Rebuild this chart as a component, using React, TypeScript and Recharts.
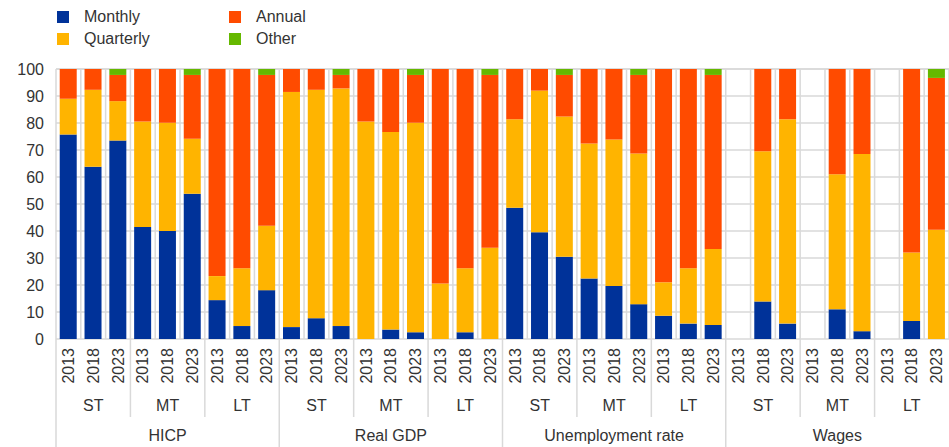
import React from 'react';
import { BarChart, Bar, XAxis, YAxis, CartesianGrid } from 'recharts';

const groups = ['HICP', 'Real GDP', 'Unemployment rate', 'Wages'];
const horizons = ['ST', 'MT', 'LT'];
const vintages = ['2013', '2018', '2023'];

const monthly = [
  75.7, 63.8, 73.5, 41.5, 40.0, 53.8, 14.4, 4.8, 18.1,
  4.4, 7.7, 4.8, 0, 3.5, 2.5, 0, 2.5, 0,
  48.6, 39.5, 30.5, 22.4, 19.6, 12.9, 8.6, 5.7, 5.2,
  0, 13.9, 5.7, 0, 11.0, 2.9, 0, 6.7, 0,
];
const quarterly = [
  13.3, 28.5, 14.6, 39.1, 40.1, 20.4, 8.9, 21.4, 23.8,
  87.1, 84.6, 88.0, 80.6, 73.2, 77.6, 20.6, 23.7, 33.8,
  32.8, 52.5, 51.9, 50.0, 54.3, 55.8, 12.4, 20.5, 28.1,
  0, 55.6, 75.7, 0, 50.0, 65.6, 0, 25.3, 40.5,
];
const annual = [
  11.0, 7.7, 9.7, 19.4, 19.9, 23.6, 76.7, 73.8, 55.9,
  8.5, 7.7, 5.0, 19.4, 23.3, 17.7, 79.4, 73.8, 64.0,
  18.6, 8.0, 15.4, 27.6, 26.1, 29.1, 79.0, 73.8, 64.5,
  0, 30.5, 18.6, 0, 39.0, 31.5, 0, 68.0, 56.2,
];
const other = [
  0, 0, 2.2, 0, 0, 2.2, 0, 0, 2.2,
  0, 0, 2.2, 0, 0, 2.2, 0, 0, 2.2,
  0, 0, 2.2, 0, 0, 2.2, 0, 0, 2.2,
  0, 0, 0, 0, 0, 0, 0, 0, 3.3,
];

const series = [
  { key: 'monthly', name: 'Monthly', color: '#003299' },
  { key: 'quarterly', name: 'Quarterly', color: '#FFB400' },
  { key: 'annual', name: 'Annual', color: '#FF4B00' },
  { key: 'other', name: 'Other', color: '#65B800' },
];

const yTicks = [0, 10, 20, 30, 40, 50, 60, 70, 80, 90, 100];

const data = groups.flatMap((g, gi) =>
  horizons.flatMap((h, hi) =>
    vintages.map((v, vi) => {
      const i = gi * 9 + hi * 3 + vi;
      return {
        id: i,
        year: v,
        horizon: h,
        group: g,
        monthly: monthly[i],
        quarterly: quarterly[i],
        annual: annual[i],
        other: other[i],
      };
    })
  )
);

const W = 949;
const H = 447;
const LEFT = 56;
const TOP = 69;
const BOTTOM = 108;
const N = data.length;
const CAT_W = (W - LEFT) / N;
const FONT = '"Liberation Sans", Arial, sans-serif';
const LINE = '#d9d9d9';
const TXT = '#333';

function XTick(props: any) {
  const { x, y, index } = props;
  const row = data[index];
  const left = x - CAT_W / 2;
  const axisY = y - 8;
  return (
    <g>
      <text
        transform={`translate(${x},${axisY + 9}) rotate(-90)`}
        textAnchor="end"
        dy="0.35em"
        fontSize={16}
        fill={TXT}
        fontFamily={FONT}
      >
        {row.year}
      </text>
      {index % 3 === 1 && (
        <text x={x} y={axisY + 66} textAnchor="middle" dy="0.35em" fontSize={16} fill={TXT} fontFamily={FONT}>
          {row.horizon}
        </text>
      )}
      {index % 9 === 4 && (
        <text x={x} y={axisY + 96} textAnchor="middle" dy="0.35em" fontSize={16} fill={TXT} fontFamily={FONT}>
          {row.group}
        </text>
      )}
      {index % 9 === 0 ? (
        <line x1={left} x2={left} y1={axisY} y2={H} stroke={LINE} strokeWidth={1.5} />
      ) : index % 3 === 0 ? (
        <line x1={left} x2={left} y1={axisY} y2={axisY + 78} stroke={LINE} strokeWidth={1.5} />
      ) : null}
    </g>
  );
}

export default function App() {
  return (
    <div style={{ position: 'absolute', left: 0, top: 0, width: W, height: H, background: '#fff', fontFamily: FONT }}>
      <div style={{ position: 'absolute', left: 57, top: 8, display: 'grid', gridTemplateColumns: '172px 120px', rowGap: 4 }}>
        {[series[0], series[2], series[1], series[3]].map((s) => (
          <div key={s.key} style={{ display: 'flex', alignItems: 'center', height: 18, fontSize: 16, color: TXT }}>
            <span style={{ display: 'inline-block', width: 12, height: 12, background: s.color, marginRight: 15 }} />
            {s.name}
          </div>
        ))}
      </div>
      <BarChart
        width={W}
        height={H}
        data={data}
        margin={{ top: TOP, right: 0, bottom: 0, left: 0 }}
        barCategoryGap="15%"
      >
        <CartesianGrid
          stroke={LINE}
          strokeWidth={1.5}
          verticalCoordinatesGenerator={({ offset }: any) =>
            Array.from({ length: N + 1 }, (_, i) => offset.left + (i * offset.width) / N)
          }
        />
        <XAxis
          dataKey="id"
          interval={0}
          axisLine={false}
          tickLine={false}
          height={BOTTOM}
          tick={<XTick />}
        />
        <YAxis
          width={LEFT}
          domain={[0, 100]}
          ticks={yTicks}
          interval={0}
          axisLine={false}
          tickLine={false}
          tickMargin={6}
          tick={{ fontSize: 16, fill: TXT, fontFamily: FONT }}
        />
        {series.map((s) => (
          <Bar key={s.key} dataKey={s.key} name={s.name} stackId="a" fill={s.color} isAnimationActive={false} />
        ))}
      </BarChart>
    </div>
  );
}
